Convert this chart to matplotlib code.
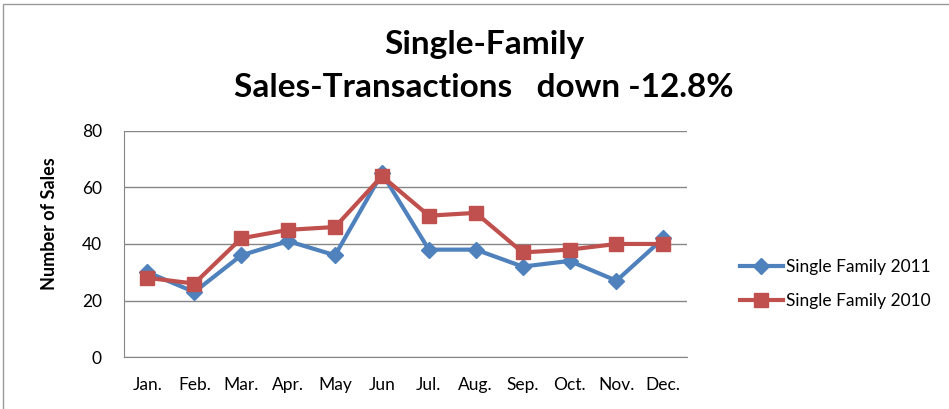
import numpy as np
import matplotlib.pyplot as plt
from matplotlib.patches import Rectangle

plt.rcParams['font.family'] = ['Lato', 'DejaVu Sans']

# Data
months = ['Jan.', 'Feb.', 'Mar.', 'Apr.', 'May', 'Jun', 'Jul.', 'Aug.', 'Sep.', 'Oct.', 'Nov.', 'Dec.']
sales_2011 = [30, 23, 36, 41, 36, 65, 38, 38, 32, 34, 27, 42]
sales_2010 = [28, 26, 42, 45, 46, 64, 50, 51, 37, 38, 40, 40]

blue = '#4F81BD'
red = '#C0504D'
grid_col = '#868686'

fig = plt.figure(figsize=(9.49, 4.09), dpi=100)
ax = fig.add_axes([0.1307, 0.127, 0.593, 0.553])

x = np.arange(len(months))
ax.plot(x, sales_2011, color=blue, lw=3, marker='D', ms=8.5,
        label='Single Family 2011', zorder=3)
ax.plot(x, sales_2010, color=red, lw=3, marker='s', ms=10,
        label='Single Family 2010', zorder=4)

ax.set_xlim(-0.5, len(months) - 0.5)
ax.set_ylim(0, 80)
ax.set_yticks([0, 20, 40, 60, 80])
ax.set_xticks(x)
ax.set_xticklabels(months)
ax.tick_params(axis='both', length=0, labelsize=12.5)
ax.tick_params(axis='x', pad=14)
ax.tick_params(axis='y', pad=16)
ax.yaxis.grid(True, color=grid_col, lw=1)
ax.set_axisbelow(True)
for side in ['top', 'right']:
    ax.spines[side].set_visible(False)
ax.spines['left'].set_color(grid_col)
ax.spines['bottom'].set_color(grid_col)

ax.set_ylabel('Number of Sales', fontsize=13, fontweight='bold')
ax.yaxis.set_label_coords(-0.118, 0.588)

fig.text(0.51, 0.89, 'Single-Family', ha='center', va='center',
         fontsize=24, fontweight='bold')
fig.text(0.51, 0.785, 'Sales-Transactions   down -12.8%', ha='center', va='center',
         fontsize=24, fontweight='bold')

ax.legend(loc='center left', bbox_to_anchor=(1.094, 0.323), frameon=False,
          fontsize=12.5, handlelength=2.5, handletextpad=0.15, labelspacing=1.05,
          borderpad=0, borderaxespad=0)

# outer chart border
fig.patches.append(Rectangle((0.003, -0.01), 1.1, 1.0, transform=fig.transFigure,
                             fill=False, edgecolor='#9a9a9a', lw=1))

fig.savefig('out.png', dpi=100)
